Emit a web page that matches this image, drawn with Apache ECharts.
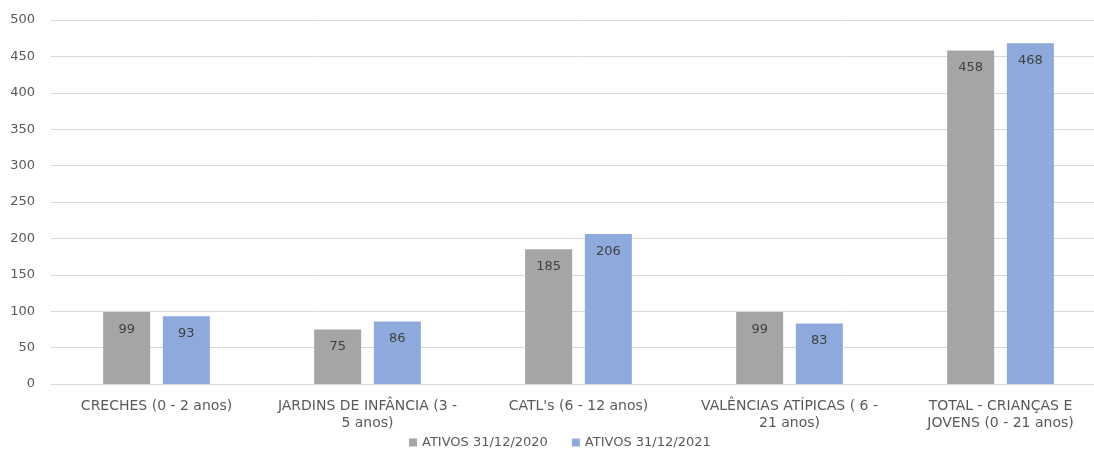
<!DOCTYPE html>
<html>
<head>
<meta charset="utf-8">
<script src="https://cdn.jsdelivr.net/npm/echarts@6/dist/echarts.min.js"></script>
<style>
  html, body { margin: 0; padding: 0; background: #fff; overflow: hidden; }
  /* the original is cropped on the right, so the chart is a bit wider than the window */
  #chart { width: 1106px; height: 450px; }
</style>
</head>
<body>
<div id="chart"></div>
<script>
const categories = [
  "CRECHES (0 - 2 anos)",
  "JARDINS DE INFÂNCIA (3 -\n5 anos)",
  "CATL's (6 - 12 anos)",
  "VALÊNCIAS ATÍPICAS ( 6 -\n21 anos)",
  "TOTAL - CRIANÇAS E\nJOVENS (0 - 21 anos)"
];
const ativos2020 = [99, 75, 185, 99, 458];
const ativos2021 = [93, 86, 206, 83, 468];
const seriesNames = ["ATIVOS 31/12/2020", "ATIVOS 31/12/2021"];

const font = "DejaVu Sans";
const chart = echarts.init(document.getElementById("chart"));

const labelStyle = {
  show: true,
  position: "insideTop",
  distance: 11,
  color: "#404040",
  fontFamily: font,
  fontSize: 13
};

chart.setOption({
  animation: false,
  textStyle: { fontFamily: font },
  grid: { left: 51, right: 0, top: 20, bottom: 66 },
  legend: {
    top: 431,
    left: 404,
    itemWidth: 8,
    itemHeight: 8,
    itemGap: 24,
    icon: "rect",
    textStyle: { color: "#595959", fontSize: 13, fontFamily: font },
    data: seriesNames
  },
  xAxis: {
    type: "category",
    data: categories,
    axisLine: { lineStyle: { color: "#d9d9d9" } },
    axisTick: { show: false },
    axisLabel: {
      color: "#595959",
      fontSize: 14,
      fontFamily: font,
      margin: 14,
      lineHeight: 17,
      interval: 0
    }
  },
  yAxis: {
    type: "value",
    min: 0,
    max: 500,
    interval: 50,
    axisLine: { show: false },
    axisTick: { show: false },
    splitLine: { lineStyle: { color: "#d9d9d9" } },
    axisLabel: { color: "#595959", fontSize: 13, fontFamily: font, margin: 16 }
  },
  series: [
    {
      name: seriesNames[0],
      type: "bar",
      data: ativos2020,
      itemStyle: { color: "#a5a5a5" },
      barWidth: 47,
      barGap: "27%",
      label: labelStyle
    },
    {
      name: seriesNames[1],
      type: "bar",
      data: ativos2021,
      itemStyle: { color: "#8eaadc" },
      barWidth: 47,
      label: labelStyle
    }
  ]
});
</script>
</body>
</html>
